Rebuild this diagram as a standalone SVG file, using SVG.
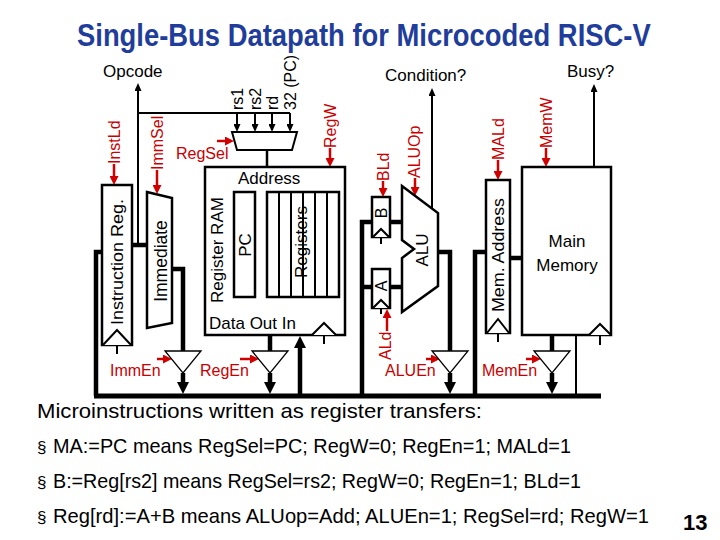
<svg xmlns="http://www.w3.org/2000/svg" width="720" height="540" viewBox="0 0 720 540">
<style>
text { font-family: "Liberation Sans", Arial, sans-serif; fill: #000; }
.title { font-size: 27.4px; font-weight: bold; fill: #1f3d9b; }
.lbl { font-size: 17px; }
.sig { font-size: 16px; }
.red { font-size: 16px; fill: #c80000; }
.body { font-size: 21px; }
.box { fill: #fff; stroke: #000; stroke-width: 2.5; }
.clk { fill: #fff; stroke: #000; stroke-width: 2; }
.buf { fill: #fff; stroke: #000; stroke-width: 1.3; }
.thin { fill: none; stroke: #000; stroke-width: 2; }
.thick { fill: none; stroke: #000; stroke-width: 4.5; }
.bus { fill: none; stroke: #000; stroke-width: 5; }
.ctl { fill: none; stroke: #d00000; stroke-width: 2.5; }
</style>
<defs>
<marker id="ah-big" markerUnits="userSpaceOnUse" markerWidth="12" markerHeight="12" refX="6" refY="6" orient="auto">
<path d="M0,0 L12,6 L0,12 z" fill="#000"/>
</marker>
<marker id="ah-small" markerUnits="userSpaceOnUse" markerWidth="8" markerHeight="7" refX="5" refY="3.5" orient="auto">
<path d="M0,0 L8,3.5 L0,7 z" fill="#000"/>
</marker>
<marker id="ah-red" markerUnits="userSpaceOnUse" markerWidth="9" markerHeight="9" refX="5" refY="4.5" orient="auto">
<path d="M0,0 L9,4.5 L0,9 z" fill="#d00000"/>
</marker>
</defs>
<rect width="720" height="540" fill="#fff"/>

<text class="title" transform="translate(77,46) scale(1,1.12)">Single-Bus Datapath for Microcoded RISC-V</text>

<g id="connectors">
<line class="bus" x1="94" y1="396" x2="601" y2="396"/>
<path class="thick" d="M96,396 V252 H102"/>
<path class="thick" d="M132,245 H147"/>
<path class="thin" d="M138,245 V86" marker-end="url(#ah-small)"/>
<path class="thin" d="M138,113 H290"/>
<path class="thin" d="M237,113 V129" marker-end="url(#ah-small)"/>
<path class="thin" d="M255,113 V129" marker-end="url(#ah-small)"/>
<path class="thin" d="M272,113 V129" marker-end="url(#ah-small)"/>
<path class="thin" d="M290,113 V129" marker-end="url(#ah-small)"/>
<path class="thin" d="M267,150 V167" style="stroke-width:2.5"/>
<path class="thick" d="M172,269 H183 V351"/>
<path class="thick" d="M183,373 V388" marker-end="url(#ah-big)"/>
<path class="thick" d="M270,335 V351"/>
<path class="thick" d="M270,373 V388" marker-end="url(#ah-big)"/>
<path class="thick" d="M300,394 V342" marker-end="url(#ah-big)"/>
<path class="thick" d="M362,396 V222 H372"/>
<path class="thick" d="M362,287 H372"/>
<path class="thick" d="M390,222 H402"/>
<path class="thick" d="M390,287 H402"/>
<path class="thick" d="M438,252 H450 V351"/>
<path class="thick" d="M450,373 V388" marker-end="url(#ah-big)"/>
<path class="thin" d="M432,208.5 V91" marker-end="url(#ah-small)"/>
<path class="thick" d="M475,396 V252 H486"/>
<path class="thick" d="M510,258 H522"/>
<path class="thick" d="M552,335 V351"/>
<path class="thick" d="M552,373 V388" marker-end="url(#ah-big)"/>
<path class="thin" d="M576,396 V335"/>
<path class="thin" d="M594,167 V87" marker-end="url(#ah-small)"/>
<!-- control signals -->
<path class="ctl" d="M114,164 V181" marker-end="url(#ah-red)"/>
<path class="ctl" d="M157,170 V190" marker-end="url(#ah-red)"/>
<path class="ctl" d="M217,141 H230" marker-end="url(#ah-red)"/>
<path class="ctl" d="M330,148 V163" marker-end="url(#ah-red)"/>
<path class="ctl" d="M383,181 V193" marker-end="url(#ah-red)"/>
<path class="ctl" d="M415,178 V192" marker-end="url(#ah-red)"/>
<path class="ctl" d="M498,160 V176" marker-end="url(#ah-red)"/>
<path class="ctl" d="M546,148 V163" marker-end="url(#ah-red)"/>
<path class="ctl" d="M387,331 V313" marker-end="url(#ah-red)"/>
<path class="ctl" d="M157,359 H168" marker-end="url(#ah-red)"/>
<path class="ctl" d="M240,359 H255" marker-end="url(#ah-red)"/>
<path class="ctl" d="M426,359 H436" marker-end="url(#ah-red)"/>
<path class="ctl" d="M526,359 H537" marker-end="url(#ah-red)"/>
</g>

<g id="signal-labels">
<text class="lbl" x="103" y="77">Opcode</text>
<text class="lbl" x="385" y="81">Condition?</text>
<text class="lbl" x="567" y="77">Busy?</text>
<text class="sig" transform="translate(237,110) rotate(-90)" dy="0.35em">rs1</text>
<text class="sig" transform="translate(255,110) rotate(-90)" dy="0.35em">rs2</text>
<text class="sig" transform="translate(272,110) rotate(-90)" dy="0.35em">rd</text>
<text class="sig" transform="translate(290,110) rotate(-90)" dy="0.35em">32 (PC)</text>
<text class="red" transform="translate(114,164) rotate(-90)" dy="0.35em">InstLd</text>
<text class="red" transform="translate(157,170) rotate(-90)" dy="0.35em">ImmSel</text>
<text class="red" x="176" y="159">RegSel</text>
<text class="red" transform="translate(330,148) rotate(-90)" dy="0.35em">RegW</text>
<text class="red" transform="translate(383,181) rotate(-90)" dy="0.35em">BLd</text>
<text class="red" transform="translate(414,178) rotate(-90)" dy="0.35em">ALUOp</text>
<text class="red" transform="translate(498,160) rotate(-90)" dy="0.35em">MALd</text>
<text class="red" transform="translate(546,148) rotate(-90)" dy="0.35em">MemW</text>
<text class="red" transform="translate(385,360) rotate(-90)" dy="0.35em">ALd</text>
<text class="red" x="110" y="376">ImmEn</text>
<text class="red" x="200" y="376">RegEn</text>
<text class="red" x="385" y="376">ALUEn</text>
<text class="red" x="482" y="376">MemEn</text>
</g>

<g id="instruction-reg">
<rect class="box" x="102" y="185" width="30" height="160"/>
<polyline class="clk" points="103,345 117,330 131,345"/>
<line class="thin" x1="117" y1="346" x2="117" y2="354"/>
<text class="lbl" transform="translate(117,262) rotate(-90)" text-anchor="middle" dy="0.35em" textLength="126" lengthAdjust="spacingAndGlyphs">Instruction Reg.</text>
</g>

<g id="immediate">
<polygon class="box" points="147,192 172,198 172,323 147,328"/>
<text class="lbl" transform="translate(161,261) rotate(-90)" text-anchor="middle" dy="0.35em" style="font-size:17.5px">Immediate</text>
</g>

<g id="reg-mux">
<polygon class="box" points="232,132 297,132 292,150 237,150" style="stroke-width:2"/>
</g>

<g id="register-ram">
<rect class="box" x="205" y="167" width="140" height="168"/>
<text class="lbl" x="238" y="184">Address</text>
<text class="lbl" transform="translate(217,250) rotate(-90)" text-anchor="middle" dy="0.35em">Register RAM</text>
<rect class="box" x="234" y="192" width="21" height="105"/>
<text class="lbl" transform="translate(245,245) rotate(-90)" text-anchor="middle" dy="0.35em">PC</text>
<rect class="box" x="267" y="192" width="72" height="105"/>
<path class="thin" d="M279,192 V297 M291,192 V297 M303,192 V297 M315,192 V297 M327,192 V297"/>
<text class="lbl" transform="translate(301,242) rotate(-90)" text-anchor="middle" dy="0.35em">Registers</text>
<text class="lbl" x="209" y="329">Data Out In</text>
<polyline class="clk" points="312,335 324,323 336,335"/>
<line class="thin" x1="324" y1="336" x2="324" y2="344"/>
</g>

<g id="b-reg">
<rect class="box" x="372" y="197" width="18" height="40"/>
<polyline class="clk" points="373,237 381,229 389,237"/>
<line class="thin" x1="381" y1="238" x2="381" y2="244"/>
<text class="sig" transform="translate(381,213) rotate(-90)" text-anchor="middle" dy="0.35em">B</text>
</g>

<g id="a-reg">
<rect class="box" x="372" y="269" width="18" height="39"/>
<polyline class="clk" points="373,308 381,300 389,308"/>
<line class="thin" x1="381" y1="309" x2="381" y2="314"/>
<text class="sig" transform="translate(381,286) rotate(-90)" text-anchor="middle" dy="0.35em">A</text>
</g>

<g id="alu">
<polygon class="box" points="402,186 438,213 438,286 402,312 402,258 414,249 402,240"/>
<text class="lbl" transform="translate(422,250) rotate(-90)" text-anchor="middle" dy="0.35em">ALU</text>
</g>

<g id="mem-address">
<rect class="box" x="486" y="180" width="24" height="153"/>
<polyline class="clk" points="487,333 498,319 509,333"/>
<line class="thin" x1="498" y1="334" x2="498" y2="342"/>
<text class="lbl" transform="translate(498,255) rotate(-90)" text-anchor="middle" dy="0.35em" textLength="114" lengthAdjust="spacingAndGlyphs">Mem. Address</text>
</g>

<g id="main-memory">
<rect class="box" x="522" y="167" width="89" height="168"/>
<text class="lbl" x="567" y="247" text-anchor="middle">Main</text>
<text class="lbl" x="567" y="271" text-anchor="middle">Memory</text>
<polyline class="clk" points="589,335 600,324 611,335"/>
<line class="thin" x1="600" y1="336" x2="600" y2="345"/>
</g>

<g id="buffers">
<polygon id="imm-buffer" class="buf" points="165,351 201,351 183,373"/>
<polygon id="reg-buffer" class="buf" points="252,351 288,351 270,373"/>
<polygon id="alu-buffer" class="buf" points="432,351 468,351 450,373"/>
<polygon id="mem-buffer" class="buf" points="534,351 570,351 552,373"/>
</g>

<g id="notes">
<text class="body" x="37" y="418" textLength="445" lengthAdjust="spacingAndGlyphs">Microinstructions written as register transfers:</text>
<text class="body" x="37" y="453" style="font-size:17px">§</text>
<text class="body" x="53" y="453" textLength="518" lengthAdjust="spacingAndGlyphs">MA:=PC means RegSel=PC; RegW=0; RegEn=1; MALd=1</text>
<text class="body" x="37" y="488" style="font-size:17px">§</text>
<text class="body" x="53" y="488" textLength="528" lengthAdjust="spacingAndGlyphs">B:=Reg[rs2] means RegSel=rs2; RegW=0; RegEn=1; BLd=1</text>
<text class="body" x="37" y="523" style="font-size:17px">§</text>
<text class="body" x="53" y="523" textLength="596" lengthAdjust="spacingAndGlyphs">Reg[rd]:=A+B means ALUop=Add; ALUEn=1; RegSel=rd; RegW=1</text>
<text x="683" y="530" style="font-size:22px;font-weight:bold">13</text>
</g>
</svg>
